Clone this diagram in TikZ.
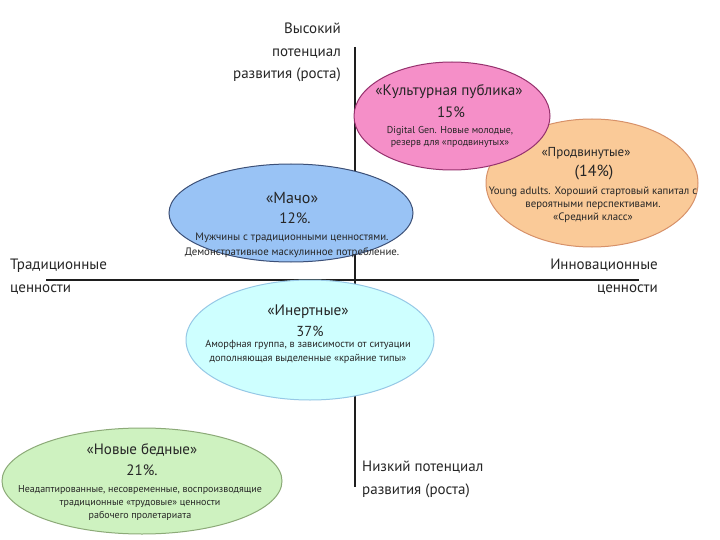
\documentclass[tikz,border=0pt]{standalone}
\usepackage{fontspec}
\setmainfont{PT Sans}
\usetikzlibrary{shapes.geometric}
\definecolor{pinkfill}{RGB}{245,143,200}
\definecolor{pinkline}{RGB}{150,50,110}
\definecolor{orfill}{RGB}{250,202,152}
\definecolor{orline}{RGB}{215,145,105}
\definecolor{bluefill}{RGB}{153,195,245}
\definecolor{blueline}{RGB}{60,80,120}
\definecolor{cyfill}{RGB}{206,255,255}
\definecolor{cyline}{RGB}{150,200,230}
\definecolor{grfill}{RGB}{206,242,192}
\definecolor{grline}{RGB}{140,170,120}
\definecolor{axis}{RGB}{30,30,30}
\tikzset{
  blob/.style={ellipse, draw, line width=1pt, inner sep=0pt},
  gtext/.style={align=center, inner sep=0pt, text=black!85},
  axislabel/.style={inner sep=0pt, font=\fontsize{15}{22.5}\selectfont, text=black!85},
  axisline/.style={draw=axis, line width=1.8pt},
}
\begin{document}
\begin{tikzpicture}[x=1pt,y=-1pt]
\useasboundingbox[fill=white] (0,0) rectangle (720,540);
% axes
\coordinate (top) at (355,47);
\coordinate (bot) at (355,487);
\coordinate (lft) at (46,280);
\coordinate (rgt) at (639,280);
\draw[axisline] (top) -- (bot);
\draw[axisline] (lft) -- (rgt);
% axis labels
\node[axislabel, anchor=north east, align=right] (hi) at (341,23) {Высокий\\потенциал\\развития (роста)};
\node[axislabel, anchor=north west, align=left] (trad) at (10,259) {Традиционные\\ценности};
\node[axislabel, anchor=north east, align=right] (inno) at (658,259) {Инновационные\\ценности};
\node[axislabel, anchor=north west, align=left] (lo) at (362,461) {Низкий потенциал\\развития (роста)};
% ellipses
\node[blob, fill=orfill, draw=orline, minimum width=212pt, minimum height=128pt] (adv) at (592,183) {};
\node[blob, fill=pinkfill, draw=pinkline, minimum width=196pt, minimum height=108pt] (cult) at (452,116) {};
\node[blob, fill=bluefill, draw=blueline, minimum width=244pt, minimum height=98pt] (macho) at (291,213) {};
\node[blob, fill=cyfill, draw=cyline, minimum width=248pt, minimum height=120pt] (inert) at (310,340) {};
\node[blob, fill=grfill, draw=grline, minimum width=280pt, minimum height=106pt] (poor) at (142,481) {};
% culture
\node[gtext, font=\fontsize{15.2}{18}\selectfont] (cultA) at (449,92) {«Культурная публика»};
\node[gtext, font=\fontsize{15}{18}\selectfont] (cultB) at (451,112) {15\%};
\node[gtext, font=\fontsize{10}{12}\selectfont] (cultC) at (450,137) {Digital Gen. Новые молодые,\\резерв для «продвинутых»};
% advanced
\node[gtext, font=\fontsize{13}{16}\selectfont] (advA) at (586,153) {«Продвинутые»};
\node[gtext, font=\fontsize{16}{18}\selectfont] (advB) at (594,173) {(14\%)};
\node[gtext, font=\fontsize{10.8}{13}\selectfont] (advC) at (593,205) {Young adults. Хороший стартовый капитал с\\вероятными перспективами.\\«Средний класс»};
% macho
\node[gtext, font=\fontsize{16}{18}\selectfont] (machoA) at (292,198) {«Мачо»};
\node[gtext, font=\fontsize{15}{18}\selectfont] (machoB) at (295,218) {12\%.};
\node[gtext, font=\fontsize{10.8}{15}\selectfont] (machoC) at (292,245) {Мужчины с традиционными ценностями.\\Демонстративное маскулинное потребление.};
% inert
\node[gtext, font=\fontsize{15.3}{18}\selectfont] (inertA) at (308,312) {«Инертные»};
\node[gtext, font=\fontsize{14.5}{18}\selectfont] (inertB) at (310,331) {37\%};
\node[gtext, font=\fontsize{10.3}{14}\selectfont] (inertC) at (308,352) {Аморфная группа, в зависимости от ситуации\\дополняющая выделенные «крайние типы»};
% new poor
\node[gtext, font=\fontsize{15}{18}\selectfont] (poorA) at (142,450) {«Новые бедные»};
\node[gtext, font=\fontsize{15}{18}\selectfont] (poorB) at (142,470) {21\%.};
\node[gtext, font=\fontsize{10}{13}\selectfont] (poorC) at (140,503) {Неадаптированные, несовременные, воспроизводящие\\традиционные «трудовые» ценности\\рабочего пролетариата};
\end{tikzpicture}
\end{document}
